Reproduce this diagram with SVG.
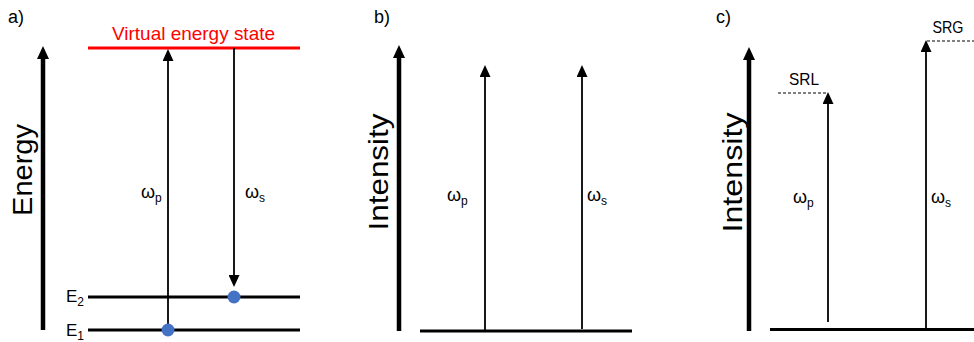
<svg xmlns="http://www.w3.org/2000/svg" width="974" height="342" viewBox="0 0 974 342">
<style>
text{font-family:"Liberation Sans",Arial,sans-serif;fill:#000}
.axis{stroke:#000;stroke-width:4.5;fill:none}
.arr{stroke:#000;stroke-width:1.8;fill:none}
.base{stroke:#000;stroke-width:3;fill:none}
.dash{stroke:#000;stroke-width:1;stroke-dasharray:3 2;fill:none}
.panel{font-size:18px}
.ax{font-size:28px}
.w{font-size:18px}
.sub{font-size:12px}
.lbl{font-size:17px}
.dot{fill:#4472C4}
</style>
<defs>
<marker id="ah" markerUnits="userSpaceOnUse" markerWidth="12" markerHeight="11" refX="4" refY="5.5" orient="auto">
<path d="M0,0 L12,5.5 L0,11 z" fill="#000"/>
</marker>
<marker id="ahx" markerUnits="userSpaceOnUse" markerWidth="13" markerHeight="12" refX="4" refY="6" orient="auto">
<path d="M0,0 L13,6 L0,12 z" fill="#000"/>
</marker>
</defs>

<g id="panel-a">
<text class="panel" x="8" y="23">a)</text>
<g id="energy-axis">
<line class="axis" x1="43" y1="330" x2="43" y2="55" marker-end="url(#ahx)"/>
<text class="ax" transform="translate(32,170) rotate(-90)" text-anchor="middle" textLength="92" lengthAdjust="spacingAndGlyphs">Energy</text>
</g>
<g id="virtual-state">
<line x1="88" y1="48" x2="300" y2="48" stroke="#FF0000" stroke-width="3"/>
<text x="193.5" y="40" text-anchor="middle" font-size="18.5" style="fill:#FF0000" textLength="163" lengthAdjust="spacingAndGlyphs">Virtual energy state</text>
</g>
<g id="level-e2">
<line class="base" x1="88" y1="297" x2="300" y2="297"/>
<text x="66" y="302" font-size="17">E<tspan class="sub" dy="4">2</tspan></text>
</g>
<g id="level-e1">
<line class="base" x1="88" y1="330" x2="300" y2="330"/>
<text x="66" y="336" font-size="17">E<tspan class="sub" dy="4">1</tspan></text>
</g>
<g id="a-labels">
<text class="w" x="141" y="198">ω<tspan class="sub" dy="4">p</tspan></text>
<text class="w" x="245" y="198">ω<tspan class="sub" dy="4">s</tspan></text>
</g>
</g>

<g id="panel-b">
<text class="panel" x="374" y="23">b)</text>
<g id="intensity-axis-b">
<line class="axis" x1="399" y1="331" x2="399" y2="54" marker-end="url(#ahx)"/>
<text class="ax" transform="translate(388,172) rotate(-90)" text-anchor="middle" textLength="117" lengthAdjust="spacingAndGlyphs">Intensity</text>
</g>
<line id="baseline-b" class="base" x1="420" y1="331" x2="632" y2="331"/>
<g id="b-labels">
<text class="w" x="447" y="201">ω<tspan class="sub" dy="4">p</tspan></text>
<text class="w" x="587" y="201">ω<tspan class="sub" dy="4">s</tspan></text>
</g>
</g>

<g id="panel-c">
<text class="panel" x="716" y="23">c)</text>
<g id="intensity-axis-c">
<line class="axis" x1="749" y1="331" x2="749" y2="56" marker-end="url(#ahx)"/>
<text class="ax" transform="translate(741.5,172.5) rotate(-90)" text-anchor="middle" textLength="120" lengthAdjust="spacingAndGlyphs">Intensity</text>
</g>
<line id="baseline-c" class="base" x1="770" y1="329.5" x2="974" y2="329.5"/>
<g id="srl">
<line class="dash" x1="778" y1="93" x2="827" y2="93"/>
<text class="lbl" x="789" y="85" textLength="30" lengthAdjust="spacingAndGlyphs">SRL</text>
</g>
<g id="srg">
<line class="dash" x1="927" y1="41" x2="974" y2="41"/>
<text class="lbl" x="932.5" y="33" textLength="31" lengthAdjust="spacingAndGlyphs">SRG</text>
</g>
<g id="c-labels">
<text class="w" x="793" y="203">ω<tspan class="sub" dy="4">p</tspan></text>
<text class="w" x="931" y="203">ω<tspan class="sub" dy="4">s</tspan></text>
</g>
</g>

<g id="connectors">
<line class="arr" x1="168" y1="330" x2="168" y2="57" marker-end="url(#ah)"/>
<line class="arr" x1="234" y1="48" x2="234" y2="279" marker-end="url(#ah)"/>
<line class="arr" x1="485" y1="331" x2="485" y2="73" marker-end="url(#ah)"/>
<line class="arr" x1="582" y1="329" x2="582" y2="73" marker-end="url(#ah)"/>
<line class="arr" x1="828" y1="322" x2="828" y2="100" marker-end="url(#ah)"/>
<line class="arr" x1="926" y1="328" x2="926" y2="48" marker-end="url(#ah)"/>
</g>

<g id="dots">
<circle class="dot" cx="234" cy="297" r="6.5"/>
<circle class="dot" cx="168" cy="330" r="6.5"/>
</g>
</svg>
